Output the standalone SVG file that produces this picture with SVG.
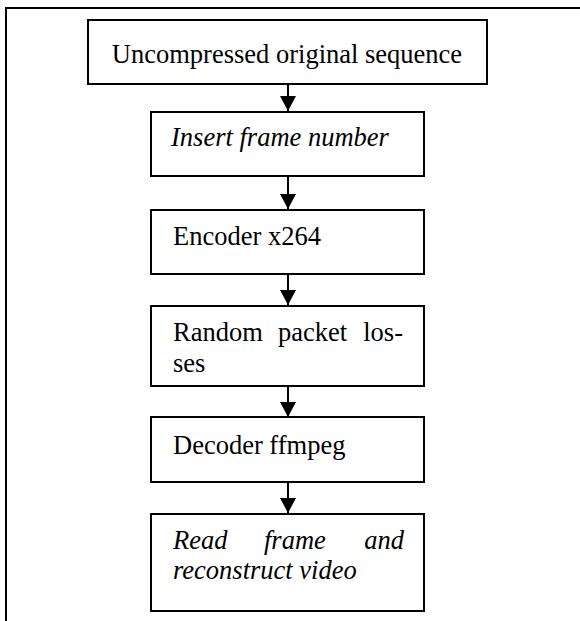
<svg xmlns="http://www.w3.org/2000/svg" width="580" height="621" viewBox="0 0 580 621">
<style>
.box{fill:#fff;stroke:#000;stroke-width:2}
.t{font-family:"Liberation Serif","Times New Roman",serif;font-size:26.5px;fill:#000}
.i{font-style:italic}
.c{stroke:#000;stroke-width:2;fill:none}
</style>
<defs>
<marker id="ah" markerUnits="userSpaceOnUse" markerWidth="16" markerHeight="16" refX="15" refY="8" orient="auto">
<path d="M0,0 L15,8 L0,16 Z" fill="#000"/>
</marker>
</defs>
<rect width="580" height="621" fill="#fff"/>
<g id="frame">
<path d="M6,621 V8 H580" fill="none" stroke="#000" stroke-width="2"/>
</g>
<g id="connectors">
<line class="c" x1="288" y1="84" x2="288" y2="111" marker-end="url(#ah)"/>
<line class="c" x1="288" y1="176" x2="288" y2="209" marker-end="url(#ah)"/>
<line class="c" x1="288" y1="274" x2="288" y2="305" marker-end="url(#ah)"/>
<line class="c" x1="288" y1="386" x2="288" y2="417" marker-end="url(#ah)"/>
<line class="c" x1="288" y1="482" x2="288" y2="513" marker-end="url(#ah)"/>
</g>
<g id="n1">
<rect class="box" x="88" y="20" width="399" height="64"/>
<text class="t" x="287" y="63" text-anchor="middle">Uncompressed original sequence</text>
</g>
<g id="n2">
<rect class="box" x="151" y="112" width="273" height="64"/>
<text class="t i" x="171" y="146">Insert frame number</text>
</g>
<g id="n3">
<rect class="box" x="151" y="210" width="273" height="64"/>
<text class="t" x="173" y="245">Encoder x264</text>
</g>
<g id="n4">
<rect class="box" x="151" y="306" width="273" height="80"/>
<text class="t"><tspan x="173" y="341">Random</tspan><tspan x="278" y="341">packet</tspan><tspan x="403" y="341" text-anchor="end">los-</tspan><tspan x="173" y="372">ses</tspan></text>
</g>
<g id="n5">
<rect class="box" x="151" y="417" width="273" height="65"/>
<text class="t" x="173" y="454">Decoder ffmpeg</text>
</g>
<g id="n6">
<rect class="box" x="151" y="514" width="273" height="97"/>
<text class="t i"><tspan x="173" y="549">Read</tspan><tspan x="264" y="549">frame</tspan><tspan x="404" y="549" text-anchor="end">and</tspan><tspan x="173" y="579">reconstruct video</tspan></text>
</g>
</svg>
